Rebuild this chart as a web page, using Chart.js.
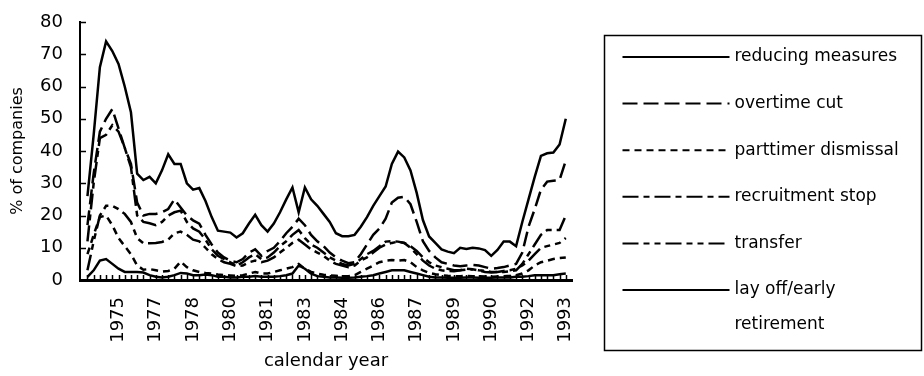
<!DOCTYPE html>
<html>
<head>
<meta charset="utf-8">
<script src="https://cdn.jsdelivr.net/npm/chart.js@4/dist/chart.umd.min.js"></script>
<style>
  html, body { margin: 0; padding: 0; background: #fff; }
  #wrap { width: 924px; height: 376px; }
</style>
</head>
<body>
<div id="wrap"><canvas id="c" width="924" height="376"></canvas></div>
<script>
// Quarterly share of companies (%) taking each employment adjustment measure.
const seriesNames = [
  'reducing measures',
  'overtime cut',
  'parttimer dismissal',
  'recruitment stop',
  'transfer',
  'lay off/early retirement'
];

const reducingMeasures = [
  26, 45, 66, 74, 71, 67, 60, 52, 33, 31,
  32, 30, 34, 39, 36, 36, 30, 28, 28.5, 24.5,
  19.5, 15.3, 15, 14.7, 13.2, 14.5, 17.5, 20.2, 17, 15,
  17.5, 21, 25, 28.7, 21, 28.7, 25, 23, 20.5, 18,
  14.5, 13.6, 13.6, 14, 16.5, 19.5, 23, 26, 29, 36,
  39.8, 38, 34, 27, 18.6, 13.5, 11.5, 9.5, 8.8, 8.3,
  10, 9.6, 10, 9.8, 9.3, 7.5, 9.3, 11.9, 11.9, 10.5,
  18, 25, 32, 38.5, 39.3, 39.5, 42, 50
];

const overtimeCut = [
  17, 33, 46, 50, 53, 47, 41, 36, 24, 20,
  20.5, 20.5, 21, 22, 25, 22.5, 20, 18.5, 17.5, 14,
  11, 8.5, 7, 6, 5.5, 6.5, 8.5, 9.5, 7.5, 9,
  10, 12, 14.5, 16.5, 19, 17, 14, 12, 10.5, 8.5,
  7, 6, 5.2, 5.5, 8, 11, 14, 16, 19, 24,
  25.5, 25.8, 23.5, 18, 12, 9, 7, 5.5, 5, 4.5,
  4.3, 4.5, 4.7, 4.5, 4, 3.5, 3.7, 4, 4.5, 5,
  8.5, 16.5, 22, 28, 30.5, 30.8, 31, 37
];

const parttimerDismissal = [
  8, 14, 19.5, 20, 17, 13, 10.5, 8, 4.5, 3.2,
  3.4, 3, 2.6, 2.8, 3.5, 5.7, 4, 3, 2.5, 2.2,
  2, 1.7, 1.5, 1.4, 1.3, 1.5, 2, 2.5, 2, 2,
  2.5, 3, 3.5, 4, 5, 3.5, 2.5, 2, 1.6, 1.4,
  1.3, 1.2, 1.2, 1.5, 2.5, 3.5, 4.5, 5.5, 6, 6.2,
  6, 6.2, 5.5, 4, 3, 2.2, 1.8, 1.5, 1.3, 1.2,
  1.2, 1.3, 1.2, 1.2, 1.1, 1, 1.1, 1.2, 1.3, 1.5,
  2, 3, 4.5, 5.5, 6, 6.5, 6.8, 7
];

const recruitmentStop = [
  12, 30, 44, 45, 48, 46, 41, 35, 20, 18,
  17.6, 17, 18, 20, 21, 21.5, 18, 16, 15, 12.5,
  9.5, 7.5, 6.5, 5.5, 4.5, 5.5, 7, 8, 6.5, 7,
  8.5, 10.5, 12, 14, 15.5, 13, 11, 10, 8.5, 7,
  6, 5, 4.5, 5, 6.5, 8, 9, 10.5, 11.9, 12,
  11.9, 11.5, 10, 8, 6, 4.5, 3.5, 3, 2.8, 2.7,
  3, 3.2, 3.3, 3, 2.5, 2.3, 2.5, 2.5, 2.7, 3,
  5, 8, 11, 14, 15.5, 15.5, 15.5, 20
];

const transfer = [
  3, 12, 20, 23, 23, 22, 20.5, 18, 13, 11.4,
  11.4, 11.5, 11.8, 12.5, 14.5, 15, 14, 12.5, 12, 10,
  8, 6.5, 5.5, 5, 4.3, 4.5, 5.5, 6, 5.5, 6,
  7, 8.5, 10, 11.5, 12.5, 11, 9.5, 8.5, 7.5, 6,
  5, 4.5, 4, 4.5, 6, 7, 8.5, 10, 11, 11.5,
  11.9, 11.5, 10.5, 9, 7, 5.5, 4.5, 4, 3.5, 3,
  3, 3.5, 3.3, 3, 2.8, 2.5, 2.5, 2.8, 3, 3.5,
  4.5, 6, 8, 10, 10.5, 11, 11.5, 13
];

const layOffEarlyRetirement = [
  1, 3, 6, 6.5, 5, 3.5, 2.5, 2.5, 2.5, 2.3,
  1.5, 1, 0.8, 1, 1.5, 2.2, 2, 1.5, 1.5, 1.7,
  1.5, 1, 1, 0.8, 0.8, 1, 1, 1.2, 1, 1,
  1, 1.2, 1.5, 2, 4.5, 3.5, 2, 1.2, 1, 0.8,
  0.8, 0.7, 0.7, 0.8, 1, 1.2, 1.5, 2, 2.5, 3,
  3, 3, 2.5, 2, 1.5, 1, 0.8, 0.8, 0.7, 0.7,
  0.7, 0.8, 0.8, 0.7, 0.7, 0.7, 0.8, 0.8, 0.8, 1,
  1, 1.2, 1.5, 1.5, 1.5, 1.5, 1.8, 2
];

// Year labels on the time axis and the quarter index each one sits on.
const yearTicks = ['1975', '1977', '1978', '1980', '1981', '1983', '1984',
                   '1986', '1987', '1989', '1990', '1992', '1993'];
const yearTickQuarter = [5, 11, 17, 23, 29, 35, 41, 47, 53, 59, 65, 71, 77];

const valueTicks = [0, 10, 20, 30, 40, 50, 60, 70, 80];

const allSeries = [reducingMeasures, overtimeCut, parttimerDismissal,
                   recruitmentStop, transfer, layOffEarlyRetirement];
const dashes = [[], [15, 6], [7, 5], [16, 5, 6, 5], [16, 5, 6, 5, 6, 5], []];

const FONT = 'DejaVu Sans';

// Short inward tick marks on both axes (one per quarter, one per 10 %).
const innerTicks = {
  id: 'innerTicks',
  afterDatasetsDraw(chart) {
    const { ctx, scales: { x, y } } = chart;
    ctx.save();
    ctx.strokeStyle = '#000';
    ctx.lineWidth = 1.5;
    ctx.beginPath();
    for (let i = 0; i < reducingMeasures.length; i++) {
      const px = Math.round(x.getPixelForValue(i)) + 0.5;
      ctx.moveTo(px, y.bottom);
      ctx.lineTo(px, y.bottom - 5);
    }
    valueTicks.forEach(v => {
      if (v === 0) return;
      const py = Math.round(y.getPixelForValue(v)) + 0.5;
      ctx.moveTo(x.left, py);
      ctx.lineTo(x.left + 6, py);
    });
    ctx.stroke();
    ctx.restore();
  }
};

// Boxed legend with long line samples and wrapped labels.
const boxLegend = {
  id: 'boxLegend',
  afterDraw(chart, args, o) {
    const { ctx } = chart;
    ctx.save();
    ctx.strokeStyle = '#000';
    ctx.lineWidth = 1.5;
    ctx.strokeRect(o.left, o.top, o.width, o.height);
    ctx.font = o.fontSize + 'px "' + FONT + '"';
    ctx.fillStyle = '#000';
    ctx.textBaseline = 'middle';
    const textX = o.left + o.lineStart + o.lineLength + o.gap;
    const maxW = o.left + o.width - textX - 4;
    chart.data.datasets.forEach((ds, i) => {
      const cy = o.top + o.firstRow + i * o.rowGap;
      ctx.beginPath();
      ctx.setLineDash(ds.borderDash || []);
      ctx.lineWidth = 2;
      ctx.moveTo(o.left + o.lineStart, cy);
      ctx.lineTo(o.left + o.lineStart + o.lineLength, cy);
      ctx.stroke();
      ctx.setLineDash([]);
      // greedy word wrap
      const words = ds.label.split(' ');
      const lines = [];
      let cur = '';
      words.forEach(w => {
        const t = cur ? cur + ' ' + w : w;
        if (ctx.measureText(t).width > maxW && cur) { lines.push(cur); cur = w; }
        else cur = t;
      });
      lines.push(cur);
      lines.forEach((ln, k) => ctx.fillText(ln, textX, cy + k * o.lineHeight));
    });
    ctx.restore();
  }
};

new Chart(document.getElementById('c'), {
  type: 'line',
  data: {
    datasets: allSeries.map((vals, k) => ({
      label: seriesNames[k],
      data: vals.map((v, i) => ({ x: i, y: v })),
      borderColor: '#000',
      borderWidth: 2.5,
      borderDash: dashes[k],
      pointRadius: 0,
      tension: 0,
      fill: false
    }))
  },
  options: {
    responsive: false,
    devicePixelRatio: 1,
    animation: false,
    layout: { padding: { top: 22, right: 352, bottom: 0, left: 0 } },
    plugins: {
      legend: { display: false },
      tooltip: { enabled: false },
      boxLegend: {
        left: 604.5, top: 35.5, width: 317, height: 315,
        lineStart: 18, lineLength: 107, gap: 5,
        firstRow: 21.5, rowGap: 46.6, lineHeight: 35, fontSize: 17
      }
    },
    scales: {
      x: {
        type: 'linear',
        min: -1.2,
        max: 78,
        afterBuildTicks: s => { s.ticks = yearTickQuarter.map(v => ({ value: v })); },
        afterFit: s => { s.height = 96; },
        ticks: {
          autoSkip: false,
          minRotation: 90,
          maxRotation: 90,
          padding: 17,
          color: '#000',
          font: { family: FONT, size: 18 },
          callback: v => yearTicks[yearTickQuarter.indexOf(v)]
        },
        grid: { display: false, drawTicks: false },
        border: { display: true, color: '#000', width: 3 },
        title: {
          display: true,
          text: 'calendar year',
          color: '#000',
          font: { family: FONT, size: 18 },
          padding: { top: 0, bottom: 4 }
        }
      },
      y: {
        min: 0,
        max: 80,
        afterBuildTicks: s => { s.ticks = valueTicks.map(v => ({ value: v })); },
        afterFit: s => { s.width = 80; s.paddingTop = 0; s.paddingBottom = 0; },
        ticks: {
          padding: 17,
          color: '#000',
          font: { family: FONT, size: 18 }
        },
        grid: { display: false, drawTicks: false },
        border: { display: true, color: '#000', width: 2 },
        title: {
          display: true,
          text: '% of companies',
          color: '#000',
          font: { family: FONT, size: 16 },
          padding: { top: 8, bottom: 0 }
        }
      }
    }
  },
  plugins: [innerTicks, boxLegend]
});
</script>
</body>
</html>
